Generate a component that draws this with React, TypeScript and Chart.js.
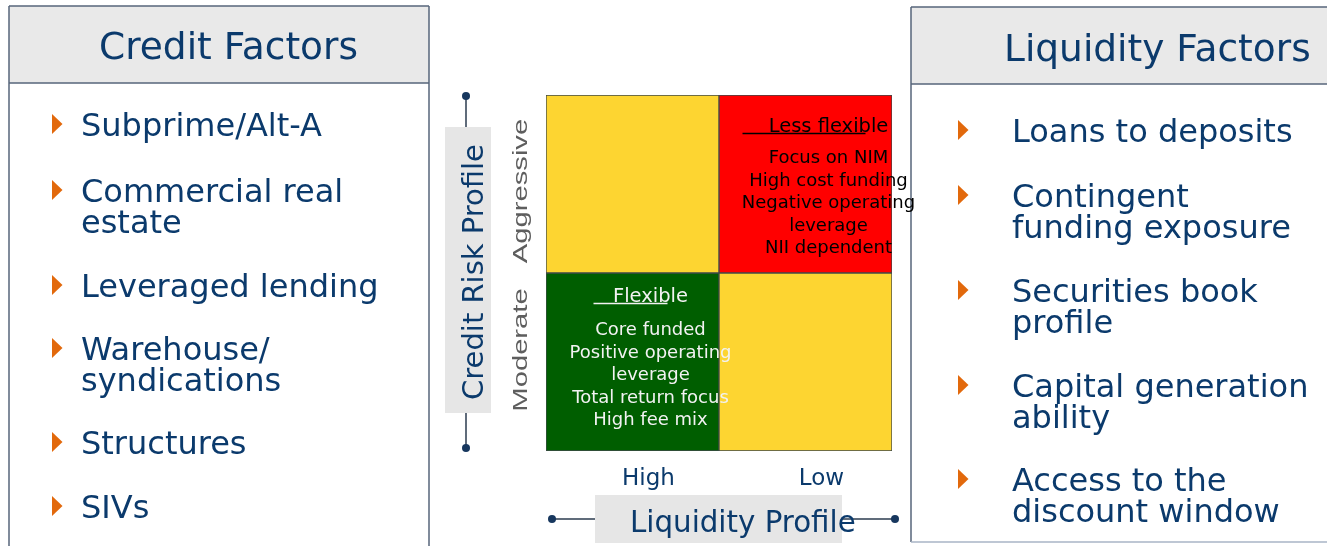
import { useEffect, useRef } from "react";
import { Chart, registerables } from "chart.js";

Chart.register(...registerables);

// ---------- DATA ----------
const liquidityLevels = ["High", "Low"];
const riskLevels = ["Moderate", "Aggressive"];
const moderateRow = [1, 1];
const aggressiveRow = [1, 1];
const moderateColors = ["#005e00", "#fdd531"];
const aggressiveColors = ["#fdd531", "#ff0000"];

const creditTitle = "Credit Factors";
const liquidityTitle = "Liquidity Factors";
const creditFactors = [
  ["Subprime/Alt-A"],
  ["Commercial real", "estate"],
  ["Leveraged lending"],
  ["Warehouse/", "syndications"],
  ["Structures"],
  ["SIVs"],
];
const liquidityFactors = [
  ["Loans to deposits"],
  ["Contingent", "funding exposure"],
  ["Securities book", "profile"],
  ["Capital generation", "ability"],
  ["Access to the", "discount window"],
];
const flexibleTitle = "Flexible";
const flexibleLines = ["Core funded", "Positive operating", "leverage", "Total return focus", "High fee mix"];
const lessFlexibleTitle = "Less flexible";
const lessFlexibleLines = ["Focus on NIM", "High cost funding", "Negative operating", "leverage", "NII dependent"];
const yAxisTitle = "Credit Risk Profile";
const xAxisTitle = "Liquidity Profile";

// ---------- LAYOUT / STYLE ----------
const W = 1327;
const H = 546;
const NAVY = "#0b3a6c";
const PANEL_BORDER = "#56657a";
const HEADER_FILL = "#e9e9e9";
const BOX_FILL = "#e6e6e6";
const ORANGE = "#e2690c";
const FONT = "'DejaVu Sans', Verdana, sans-serif";
const creditBaselines = [136, 202, 297, 360, 454, 518];
const liquidityBaselines = [142, 207, 302, 397, 491];
const riskLabelShift = [-12, 7];

function drawBullet(ctx: CanvasRenderingContext2D, x: number, cy: number) {
  ctx.save();
  ctx.fillStyle = ORANGE;
  ctx.beginPath();
  ctx.moveTo(x, cy - 10);
  ctx.lineTo(x + 10.5, cy);
  ctx.lineTo(x, cy + 10);
  ctx.closePath();
  ctx.fill();
  ctx.restore();
}

function drawDot(ctx: CanvasRenderingContext2D, x: number, y: number) {
  ctx.save();
  ctx.fillStyle = "#17375e";
  ctx.beginPath();
  ctx.arc(x, y, 4, 0, Math.PI * 2);
  ctx.fill();
  ctx.restore();
}

function line(ctx: CanvasRenderingContext2D, x1: number, y1: number, x2: number, y2: number, color: string, w: number) {
  ctx.save();
  ctx.strokeStyle = color;
  ctx.lineWidth = w;
  ctx.beginPath();
  ctx.moveTo(x1, y1);
  ctx.lineTo(x2, y2);
  ctx.stroke();
  ctx.restore();
}

function drawRotated(
  ctx: CanvasRenderingContext2D,
  text: string,
  bx: number,
  cy: number,
  font: string,
  color: string,
  stretch: number
) {
  ctx.save();
  ctx.translate(bx, cy);
  ctx.rotate(-Math.PI / 2);
  ctx.scale(stretch, 1);
  ctx.font = font;
  ctx.fillStyle = color;
  ctx.textAlign = "center";
  ctx.textBaseline = "alphabetic";
  ctx.fillText(text, 0, 0);
  ctx.restore();
}

const decorPlugin = {
  id: "decor",
  beforeDraw(chart: any) {
    const ctx: CanvasRenderingContext2D = chart.ctx;
    ctx.save();
    ctx.fillStyle = "#ffffff";
    ctx.fillRect(0, 0, W, H);

    // Left panel
    ctx.fillStyle = HEADER_FILL;
    ctx.fillRect(9, 6, 420, 77);
    line(ctx, 9, 6, 429, 6, PANEL_BORDER, 1.5);
    line(ctx, 9, 83, 429, 83, PANEL_BORDER, 1.5);
    line(ctx, 9, 6, 9, H, PANEL_BORDER, 1.5);
    line(ctx, 429, 6, 429, H, PANEL_BORDER, 1.5);

    // Right panel
    ctx.fillStyle = HEADER_FILL;
    ctx.fillRect(911, 7, W - 911, 77);
    line(ctx, 911, 7, W, 7, PANEL_BORDER, 1.5);
    line(ctx, 911, 84, W, 84, PANEL_BORDER, 1.5);
    line(ctx, 911, 7, 911, 542, PANEL_BORDER, 1.5);
    line(ctx, 911, 542, W, 542, "#a9b5c6", 1.5);

    ctx.fillStyle = NAVY;
    ctx.textAlign = "left";
    ctx.textBaseline = "alphabetic";
    ctx.font = `37.5px ${FONT}`;
    ctx.fillText(creditTitle, 99, 59);
    ctx.fillText(liquidityTitle, 1004, 61);

    ctx.font = `32px ${FONT}`;
    creditFactors.forEach((lines, i) => {
      const b = creditBaselines[i];
      drawBullet(ctx, 52, b - 12);
      ctx.fillStyle = NAVY;
      lines.forEach((t, j) => ctx.fillText(t, 81, b + j * 31));
    });
    liquidityFactors.forEach((lines, i) => {
      const b = liquidityBaselines[i];
      drawBullet(ctx, 958, b - 12);
      ctx.fillStyle = NAVY;
      lines.forEach((t, j) => ctx.fillText(t, 1012, b + j * 31));
    });

    // Y axis title box and connectors
    ctx.fillStyle = BOX_FILL;
    ctx.fillRect(445, 127, 46, 286);
    line(ctx, 466, 96, 466, 127, "#2b3b4f", 1.5);
    line(ctx, 466, 413, 466, 448, "#2b3b4f", 1.5);
    drawDot(ctx, 466, 96);
    drawDot(ctx, 466, 448);
    drawRotated(ctx, yAxisTitle, 483, 272, `29px ${FONT}`, NAVY, 1);

    // X axis title box and connectors
    ctx.fillStyle = BOX_FILL;
    ctx.fillRect(595, 495, 247, 48);
    line(ctx, 552, 519, 595, 519, "#2b3b4f", 1.5);
    line(ctx, 842, 519, 895, 519, "#2b3b4f", 1.5);
    drawDot(ctx, 552, 519);
    drawDot(ctx, 895, 519);
    ctx.fillStyle = NAVY;
    ctx.font = `29.3px ${FONT}`;
    ctx.textAlign = "left";
    ctx.fillText(xAxisTitle, 630, 532);
    ctx.restore();
  },
  afterDatasetsDraw(chart: any) {
    const ctx: CanvasRenderingContext2D = chart.ctx;
    const xs = chart.scales.x;
    const ys = chart.scales.y;
    ctx.save();

    // Liquidity tick labels
    ctx.fillStyle = NAVY;
    ctx.font = `23px ${FONT}`;
    ctx.textAlign = "center";
    ctx.textBaseline = "alphabetic";
    liquidityLevels.forEach((lab, i) => {
      ctx.fillText(lab, xs.getPixelForValue(i) + 16, chart.chartArea.bottom + 34);
    });

    // Risk tick labels (rotated)
    riskLevels.forEach((lab, i) => {
      const cy = ys.getPixelForValue(i + 0.5) + riskLabelShift[i];
      drawRotated(ctx, lab, 527, cy, `21px 'Liberation Sans', Arial, sans-serif`, "#5e5e5e", 1.39);
    });

    // Cell texts
    const cells = [
      { el: chart.getDatasetMeta(0).data[0], title: flexibleTitle, lines: flexibleLines, color: "#f2f2f2", dx: 18, t: 29, f: 33, ul: [-57, 17] },
      { el: chart.getDatasetMeta(1).data[1], title: lessFlexibleTitle, lines: lessFlexibleLines, color: "#000000", dx: 23, t: 37, f: 31, ul: [-86, 37] },
    ];
    cells.forEach((c) => {
      const cx = c.el.x + c.dx;
      const top = c.el.y;
      ctx.fillStyle = c.color;
      ctx.textAlign = "center";
      ctx.font = `19.5px ${FONT}`;
      ctx.fillText(c.title, cx, top + c.t);
      line(ctx, cx + c.ul[0], top + c.t + 1.5, cx + c.ul[1], top + c.t + 1.5, c.color, 1.5);
      ctx.font = `18px ${FONT}`;
      c.lines.forEach((t, j) => {
        ctx.fillStyle = c.color;
        ctx.fillText(t, cx, top + c.t + c.f + j * 22.5);
      });
    });
    ctx.restore();
  },
};

export default function App() {
  const ref = useRef<HTMLCanvasElement | null>(null);
  useEffect(() => {
    if (!ref.current) return;
    const chart = new Chart(ref.current, {
      type: "bar",
      data: {
        labels: liquidityLevels,
        datasets: [
          {
            label: riskLevels[0],
            data: moderateRow,
            backgroundColor: moderateColors,
            borderColor: "#3f4a4a",
            borderWidth: 1,
            borderSkipped: false,
            barPercentage: 1,
            categoryPercentage: 1,
          },
          {
            label: riskLevels[1],
            data: aggressiveRow,
            backgroundColor: aggressiveColors,
            borderColor: "#3f4a4a",
            borderWidth: 1,
            borderSkipped: false,
            barPercentage: 1,
            categoryPercentage: 1,
          },
        ],
      },
      options: {
        responsive: false,
        maintainAspectRatio: false,
        animation: false,
        events: [],
        layout: { padding: { left: 546, right: W - 892, top: 95, bottom: H - 451 } },
        plugins: { legend: { display: false }, tooltip: { enabled: false } },
        scales: {
          x: { stacked: true, display: false },
          y: { stacked: true, display: false, min: 0, max: 2 },
        },
      },
      plugins: [decorPlugin],
    });
    return () => chart.destroy();
  }, []);
  return (
    <div style={{ position: "fixed", left: 0, top: 0, width: W, height: H }}>
      <canvas ref={ref} width={W} height={H} style={{ display: "block", width: W, height: H }} />
    </div>
  );
}
